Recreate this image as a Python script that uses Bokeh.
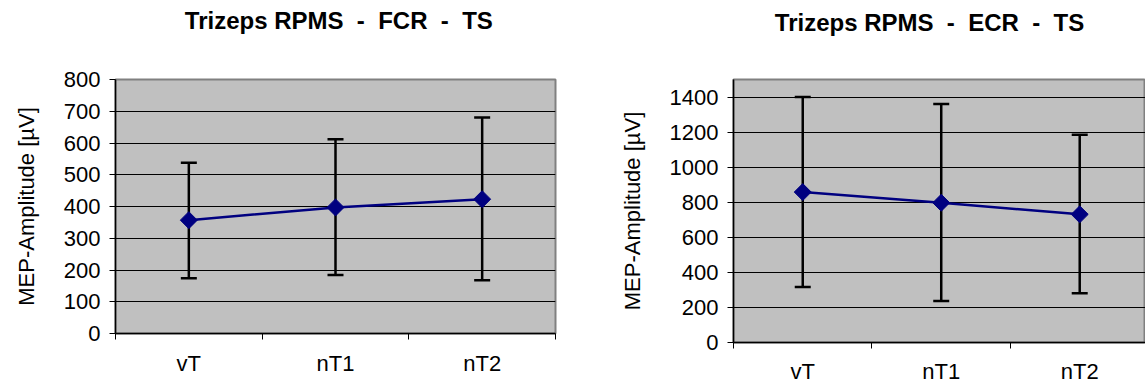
import numpy as np
from bokeh.plotting import figure
from bokeh.layouts import row
from bokeh.models import FixedTicker, ColumnDataSource, Range1d, LinearAxis
from bokeh.embed import file_html
from bokeh.resources import INLINE

categories = ["vT", "nT1", "nT2"]

fcr_mean = [357, 397, 423]
fcr_upper = [538, 612, 680]
fcr_lower = [174, 184, 168]
fcr_yticks = [0, 100, 200, 300, 400, 500, 600, 700, 800]

ecr_mean = [858, 797, 731]
ecr_upper = [1400, 1360, 1185]
ecr_lower = [316, 236, 281]
ecr_yticks = [0, 200, 400, 600, 800, 1000, 1200, 1400]

FONT = "Liberation Sans"
NAVY = "#000080"
NB = "\u00a0"


def make(title, mean, upper, lower, yticks, ymax, width, height,
         border_left, border_right, border_top, border_bottom, xend,
         title_standoff, xlabel_standoff):
    x = [i + 0.5 for i in range(len(categories))]
    src = ColumnDataSource(dict(x=x, mean=mean, upper=upper, lower=lower))
    p = figure(width=width, height=height, output_backend="svg",
               toolbar_location=None, x_range=Range1d(0, xend),
               y_range=Range1d(0, ymax),
               min_border_left=border_left, min_border_right=border_right,
               min_border_top=border_top, min_border_bottom=border_bottom,
               background_fill_color="#C0C0C0", border_fill_color="white")

    # chart title, drawn as the label of an empty axis above the frame
    tax = LinearAxis(ticker=FixedTicker(ticks=[]), axis_line_color=None,
                     major_tick_line_color=None, minor_tick_line_color=None,
                     major_tick_out=0, major_tick_in=0,
                     minor_tick_out=0, minor_tick_in=0,
                     axis_label=title, axis_label_standoff=title_standoff,
                     axis_label_text_font=FONT, axis_label_text_font_size="24px",
                     axis_label_text_font_style="bold",
                     axis_label_text_color="black")
    p.add_layout(tax, "above")

    p.outline_line_color = "#808080"
    p.outline_line_width = 2

    # y axis
    p.yaxis.ticker = FixedTicker(ticks=yticks, minor_ticks=[])
    p.yaxis.axis_line_color = "black"
    p.yaxis.axis_line_width = 1.5
    p.yaxis.major_tick_line_color = "black"
    p.yaxis.major_tick_out = 6
    p.yaxis.major_tick_in = 0
    p.yaxis.minor_tick_line_color = None
    p.yaxis.major_label_text_font = FONT
    p.yaxis.major_label_text_font_size = "22px"
    p.yaxis.major_label_text_color = "black"
    p.yaxis.major_label_standoff = 9
    p.yaxis.axis_label = "MEP-Amplitude [µV]"
    p.yaxis.axis_label_text_font = FONT
    p.yaxis.axis_label_text_font_size = "22px"
    p.yaxis.axis_label_text_font_style = "normal"
    p.yaxis.axis_label_text_color = "black"
    p.yaxis.axis_label_standoff = 22

    # x axis: labels at category centres, ticks at category boundaries
    xa = p.below[0]
    xa.ticker = FixedTicker(ticks=x, minor_ticks=list(range(len(categories) + 1)))
    xa.major_label_overrides = {xi: c for xi, c in zip(x, categories)}
    xa.axis_line_color = "black"
    xa.axis_line_width = 1.5
    xa.major_tick_line_color = None
    xa.major_tick_out = 0
    xa.major_tick_in = 0
    xa.minor_tick_line_color = "black"
    xa.minor_tick_out = 6
    xa.minor_tick_in = 0
    xa.major_label_text_font = FONT
    xa.major_label_text_font_size = "22px"
    xa.major_label_text_color = "black"
    xa.major_label_standoff = xlabel_standoff

    p.xgrid.grid_line_color = None
    p.ygrid.ticker = FixedTicker(ticks=yticks)
    p.ygrid.grid_line_color = "black"
    p.ygrid.grid_line_width = 1

    # error bars
    p.segment(x0="x", y0="lower", x1="x", y1="upper", source=src,
              line_color="black", line_width=2.5)
    p.scatter(x="x", y="upper", source=src, marker="dash", size=16,
              line_color="black", line_width=2.5)
    p.scatter(x="x", y="lower", source=src, marker="dash", size=16,
              line_color="black", line_width=2.5)
    # mean line + markers
    p.line(x="x", y="mean", source=src, line_color=NAVY, line_width=2.5)
    p.scatter(x="x", y="mean", source=src, marker="square", angle=np.pi / 4,
              size=12, fill_color=NAVY, line_color=NAVY)
    return p


title1 = NB + "Trizeps RPMS " + NB + "- " + NB + "FCR " + NB + "- " + NB + "TS"
title2 = "Trizeps RPMS " + NB + "- " + NB + "ECR " + NB + "- " + NB + "TS" + NB * 3

p1 = make(title1, fcr_mean, fcr_upper, fcr_lower,
          fcr_yticks, 800, 575, 378, 115, 20, 79, 45, 3.0, 46, 11)
p2 = make(title2, ecr_mean, ecr_upper, ecr_lower,
          ecr_yticks, 1500, 570, 387, 158, 0, 79, 44, 2.975, 44, 10)

layout = row(p1, p2, spacing=0)
open("out.html", "w").write(file_html(layout, INLINE))
